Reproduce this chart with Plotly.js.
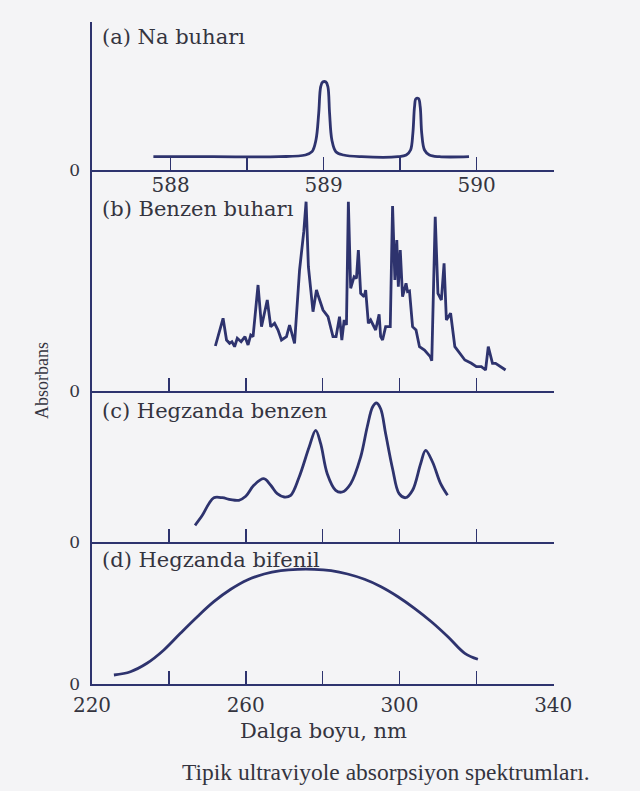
<!DOCTYPE html>
<html>
<head>
<meta charset="utf-8">
<script src="https://cdn.plot.ly/plotly-3.0.1.min.js"></script>
<style>html,body{margin:0;padding:0;background:#f4f4f6;}#chart{width:640px;height:791px;}</style>
</head>
<body>
<div id="chart"></div>
<script>
// (a) Na buharı — wavelength (nm) and absorbance (arbitrary units)
const naWl = [587.888, 588.276, 588.708, 588.881, 588.924, 588.950, 588.968, 588.981, 588.994, 589.015, 589.028, 589.039, 589.054, 589.080, 589.130, 589.248, 589.486, 589.540, 589.568, 589.583, 589.594, 589.603, 589.620, 589.631, 589.641, 589.659, 589.691, 589.756, 589.950];
const naAbs = [13.3, 13.3, 13.3, 15, 18.3, 30, 56.7, 83.3, 88, 88, 83.3, 56.7, 30, 18.3, 15, 13.3, 13.3, 15, 20, 36.7, 63.3, 71.3, 71.3, 63.3, 36.7, 20, 15, 13.3, 13.3];

// (b) Benzen buharı
const bzVapWl = [252.1, 254.1, 255.0, 255.8, 256.4, 257.1, 257.8, 258.8, 259.8, 260.6, 261.3, 261.9, 263.2, 264.1, 265.6, 266.5, 267.5, 268.4, 269.3, 270.6, 271.4, 272.7, 274.0, 275.1, 275.7, 276.3, 277.5, 278.4, 278.8, 280.1, 281.4, 282.7, 283.5, 284.4, 285.0, 285.6, 286.2, 286.7, 287.3, 288.2, 288.8, 289.3, 289.9, 290.8, 291.2, 291.9, 292.5, 293.8, 294.7, 295.1, 295.6, 296.4, 297.6, 298.2, 298.8, 299.3, 299.7, 300.2, 300.8, 301.7, 302.1, 302.6, 303.4, 304.3, 305.2, 306.5, 308.0, 308.4, 309.3, 310.0, 310.9, 311.6, 312.2, 313.3, 314.4, 315.7, 317.0, 318.7, 320.0, 321.3, 322.4, 323.1, 324.2, 325.0, 326.2, 327.6];
const bzVapAbs = [45, 72.7, 51, 47.7, 49.3, 44.3, 52.7, 49.3, 54.3, 46, 56, 54.3, 106, 64.3, 91, 64.3, 67.7, 61, 51, 54.3, 66, 47.7, 121, 159.3, 189.3, 124.3, 79.3, 101, 96, 81, 74.3, 54.3, 54.3, 74.3, 51, 71, 66, 189.3, 102.7, 114.3, 112.7, 141, 97.7, 94.3, 101, 67.7, 71, 61, 76.7, 54.3, 51, 64.3, 64.3, 185, 111, 151, 104.3, 141, 94.3, 107.7, 99.3, 100, 64.3, 61, 44.3, 41, 34.3, 30.3, 174.3, 97.7, 91, 127.7, 71, 77.7, 44.3, 37.7, 31, 27.7, 24.3, 24.3, 21, 44.3, 27.7, 27.7, 24.3, 21, 15.3];

// (c) Hegzanda benzen
const bzHexWl = [246.8, 248.7, 250.4, 251.7, 253.9, 256.1, 258.2, 260.0, 262.1, 264.7, 266.5, 268.2, 270.0, 271.7, 273.9, 276.5, 278.2, 279.5, 281.2, 283.4, 285.1, 287.3, 289.9, 291.6, 293.0, 294.0, 295.1, 296.4, 298.2, 299.9, 301.6, 303.4, 305.5, 306.8, 308.6, 310.7, 312.5];
const bzHexAbs = [16.7, 26.7, 38.3, 44.3, 44.3, 42.3, 41.7, 45.7, 56.7, 63.3, 56.7, 48.3, 45, 46.7, 65, 95, 111.7, 98.3, 68.3, 51.7, 50, 58.3, 85, 115, 135, 139, 133.3, 108.3, 73.3, 48.3, 44.3, 51.7, 78.3, 91.7, 80, 58.3, 46.7];

// (d) Hegzanda bifenil
const biphWl = [225.7, 230.0, 234.3, 238.7, 243.0, 247.4, 251.7, 256.1, 260.4, 264.8, 269.1, 273.5, 277.8, 282.2, 286.5, 290.9, 295.2, 299.6, 303.9, 308.3, 312.6, 317.0, 320.4];
const biphAbs = [9, 12.3, 20.7, 34, 50.7, 67.3, 82.3, 94.7, 104, 110, 113.3, 114.7, 114.7, 113.3, 110, 104.7, 97.3, 87.3, 75.7, 62.3, 47.3, 30.7, 24.7];

const naTicks = [588, 588.5, 589, 589.5, 590, 590.5];
const naTickText = ['588', '', '589', '', '590', ''];
const nmTicks = [220, 240, 260, 280, 300, 320, 340];
const nmTickText = ['220', '', '260', '', '300', '', '340'];
const panelLabels = ['(a) Na buharı', '(b) Benzen buharı', '(c) Hegzanda benzen', '(d) Hegzanda bifenil'];

const W = 640, H = 791;
const lineCol = '#2e336e';
const txtCol = '#34343f';
const serif = 'Liberation Serif, Times New Roman, serif';
const wide = 'DejaVu Serif, serif';
const px = x => x / W;
const py = y => 1 - y / H;

const xd = [px(92), px(554)];
const yDom = [[py(170), py(22)], [py(391), py(170)], [py(542), py(391)], [py(684), py(542)]];
const yMax = [148, 221, 151, 142];

function trace(x, y, i, shape) {
  return {x: x, y: y, xaxis: i === 0 ? 'x' : 'x' + (i + 1), yaxis: i === 0 ? 'y' : 'y' + (i + 1),
    mode: 'lines', line: {color: lineCol, width: 2.8, shape: shape, smoothing: 1}, hoverinfo: 'skip', showlegend: false};
}
const data = [
  trace(naWl, naAbs, 0, 'spline'),
  trace(bzVapWl, bzVapAbs, 1, 'linear'),
  trace(bzHexWl, bzHexAbs, 2, 'spline'),
  trace(biphWl, biphAbs, 3, 'spline')
];

const layout = {
  width: W, height: H,
  margin: {l: 0, r: 0, t: 0, b: 0},
  paper_bgcolor: '#f4f4f6', plot_bgcolor: 'rgba(0,0,0,0)',
  font: {family: wide, color: txtCol, size: 19},
  showlegend: false,
  annotations: [], shapes: []
};

for (let i = 0; i < 4; i++) {
  const sx = i === 0 ? '' : String(i + 1);
  const isNa = i === 0;
  layout['xaxis' + sx] = {
    domain: xd, anchor: 'y' + sx,
    range: isNa ? [587.487, 590.505] : [220, 340.2],
    tickmode: 'array',
    tickvals: isNa ? naTicks : nmTicks,
    ticktext: isNa ? naTickText : nmTickText,
    showticklabels: (i === 0 || i === 3),
    ticks: 'inside', ticklen: 13, tickwidth: 1.6, tickcolor: lineCol,
    showline: true, linecolor: lineCol, linewidth: 1.6,
    showgrid: false, zeroline: false, fixedrange: true,
    ticklabelstandoff: isNa ? -4 : 2,
    tickfont: {family: wide, size: 20, color: txtCol}
  };
  layout['yaxis' + sx] = {
    domain: yDom[i], anchor: 'x' + sx,
    range: [0, yMax[i]],
    tickmode: 'array', tickvals: [0], ticktext: ['0'],
    ticks: '', showline: true, linecolor: lineCol, linewidth: 1.6,
    showgrid: false, zeroline: false, fixedrange: true,
    tickfont: {family: wide, size: 17, color: txtCol}, ticklabelstandoff: 7
  };
}

const labelY = [37, 209, 411, 560];
panelLabels.forEach((t, i) => {
  layout.annotations.push({text: t, xref: 'paper', yref: 'paper', x: px(100), y: py(labelY[i]),
    xanchor: 'left', yanchor: 'middle', showarrow: false, font: {family: wide, size: 21, color: txtCol}});
});
layout.annotations.push({text: 'Dalga boyu, nm', xref: 'paper', yref: 'paper', x: px(323), y: py(731),
  xanchor: 'center', yanchor: 'middle', showarrow: false, font: {family: wide, size: 21, color: txtCol}});
layout.annotations.push({text: 'Absorbans', xref: 'paper', yref: 'paper', x: px(42), y: py(381), textangle: -90,
  xanchor: 'center', yanchor: 'middle', showarrow: false, font: {family: serif, size: 18, color: txtCol}});
layout.annotations.push({text: 'Tipik ultraviyole absorpsiyon spektrumları.', xref: 'paper', yref: 'paper', x: px(386), y: py(772),
  xanchor: 'center', yanchor: 'middle', showarrow: false, font: {family: serif, size: 23.5, color: txtCol}});

Plotly.newPlot('chart', data, layout, {displayModeBar: false, staticPlot: true});
</script>
</body>
</html>
